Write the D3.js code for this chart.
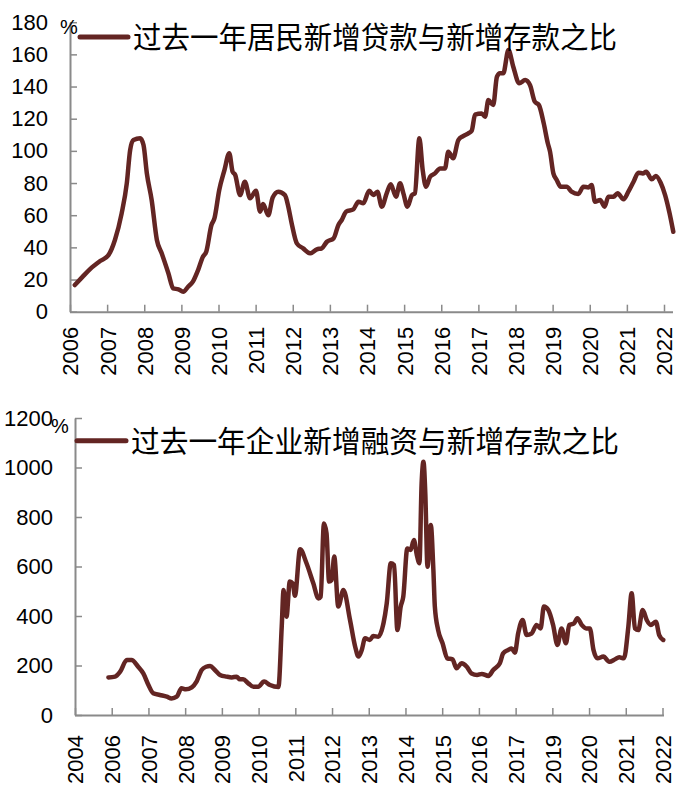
<!DOCTYPE html>
<html>
<head>
<meta charset="utf-8">
<script src="https://cdn.jsdelivr.net/npm/d3@7"></script>
<style>
  html, body { margin: 0; padding: 0; background: #fff; }
  svg { display: block; }
</style>
</head>
<body>
<svg id="chart" width="699" height="798"></svg>
<script>
// ---------------- DATA ----------------
const topTitle = "过去一年居民新增贷款与新增存款之比";
const bottomTitle = "过去一年企业新增融资与新增存款之比";

const topYTicks = [0, 20, 40, 60, 80, 100, 120, 140, 160, 180];
const topXTicks = [2006, 2007, 2008, 2009, 2010, 2011, 2012, 2013, 2014, 2015, 2016, 2017, 2018, 2019, 2020, 2021, 2022];

// [decimal year, %]
const householdRatio = [
  [2006.13,16.6],[2006.33,21.5],[2006.54,26.5],[2006.81,31.5],[2007.03,35.0],[2007.21,44.6],[2007.39,61],[2007.53,79.8],[2007.62,100.5],[2007.71,106.7],
  [2007.89,107.8],[2007.98,103.6],[2008.07,86],[2008.2,69.4],[2008.34,44.6],[2008.47,36.3],[2008.65,23.9],
  [2008.78,14.5],[2008.92,13.9],[2009.05,12.4],[2009.18,15.5],[2009.31,18.7],[2009.45,25.9],[2009.58,34.2],
  [2009.67,37.3],[2009.81,53.9],[2009.89,58],[2010.02,75.7],[2010.16,88],[2010.29,98.5],[2010.38,87],
  [2010.45,85],[2010.58,72.5],[2010.71,80.8],[2010.85,70.5],[2011.01,75.2],[2011.12,62.2],[2011.2,67],
  [2011.34,60],[2011.46,71],[2011.61,74.6],[2011.79,72.5],[2011.88,65.3],[2011.97,55],[2012.11,42.5],
  [2012.28,39.4],[2012.47,36.3],[2012.65,38.8],[2012.78,39.4],[2012.92,43.5],[2013.1,45.6],[2013.23,53.9],
  [2013.32,57],[2013.44,62.2],[2013.63,63.6],[2013.77,68.4],[2013.9,67.4],[2014.06,75.2],[2014.17,72.5],
  [2014.28,74.6],[2014.4,65.3],[2014.53,73.6],[2014.64,79.2],[2014.78,71.5],[2014.89,79.8],[2014.98,73.6],
  [2015.09,65.3],[2015.21,72.5],[2015.29,73.6],[2015.41,107.8],[2015.5,88.1],[2015.59,77.7],[2015.7,83.9],
  [2015.83,86],[2015.97,89.1],[2016.1,89.1],[2016.19,99.5],[2016.32,95.4],[2016.46,106.7],[2016.59,109.2],
  [2016.73,110.9],[2016.82,112.5],[2016.91,122.5],[2017.09,123.3],[2017.18,121.2],[2017.27,131.6],
  [2017.4,128.5],[2017.5,146.1],[2017.58,148.2],[2017.67,148.2],[2017.81,162.7],[2017.94,152.3],
  [2018.1,142],[2018.26,144],[2018.39,140.9],[2018.52,130.6],[2018.63,128.5],[2018.76,117.1],[2018.87,104.7],
  [2018.93,99.5],[2019.02,86],[2019.11,81.9],[2019.22,77.7],[2019.38,77.7],[2019.51,74.6],[2019.69,73.2],
  [2019.83,77.7],[2019.96,77.3],[2020.05,78.8],[2020.14,68.4],[2020.28,69.4],[2020.4,65.3],[2020.5,71.5],
  [2020.64,71.5],[2020.75,73.6],[2020.91,69.9],[2021.04,74.6],[2021.18,80.8],[2021.31,86.4],[2021.43,86],
  [2021.52,87],[2021.67,82.3],[2021.78,84.4],[2021.91,80.2],[2022.03,72.5],[2022.15,61.2],[2022.25,49.7]
];

const bottomYTicks = [0, 200, 400, 600, 800, 1000, 1200];
// category axis labels as printed (one per tick position)
const bottomXLabels = ["2004","2006","2007","2008","2009","2010","2011","2012","2013","2014","2015","2016","2017","2019","2020","2021","2022"];

// [axis position (label index), %]
const corporateRatio = [
  [0.91,152],[1.09,155],[1.23,175],[1.41,222],[1.54,222],[1.72,195],[1.86,168],[2.0,121],[2.13,88],
  [2.31,81],[2.5,74],[2.63,67],[2.77,74],[2.9,108],[3.02,104],[3.18,112],[3.31,135],[3.45,182],[3.57,195],
  [3.68,198],[3.81,182],[3.95,162],[4.13,155],[4.27,152],[4.4,155],[4.49,144],[4.58,144],[4.72,128],
  [4.86,114],[4.99,114],[5.15,135],[5.31,121],[5.54,113],[5.63,357],[5.68,505],[5.76,397],[5.85,539],
  [5.93,532],[5.99,482],[6.13,670],[6.3,615],[6.49,532],[6.63,471],[6.69,478],[6.78,774],[6.85,734],
  [6.92,539],[6.99,545],[7.06,640],[7.17,438],[7.31,505],[7.49,384],[7.63,276],[7.72,236],[7.81,263],
  [7.9,310],[8.03,303],[8.12,319],[8.26,316],[8.4,370],[8.49,451],[8.6,613],[8.69,606],[8.78,343],
  [8.87,438],[8.94,478],[9.05,673],[9.14,667],[9.23,707],[9.31,646],[9.38,613],[9.44,936],[9.49,1023],
  [9.54,896],[9.6,599],[9.69,768],[9.76,586],[9.8,438],[9.89,343],[10.01,290],[10.14,229],[10.28,225],
  [10.39,189],[10.53,209],[10.67,195],[10.8,168],[10.95,162],[11.08,166],[11.26,158],[11.39,182],
  [11.57,209],[11.66,249],[11.8,263],[11.89,269],[11.98,252],[12.07,330],[12.19,384],[12.3,323],
  [12.44,330],[12.57,364],[12.68,350],[12.77,438],[12.89,424],[13.02,364],[13.14,283],[13.25,350],
  [13.37,290],[13.46,364],[13.59,370],[13.68,391],[13.8,364],[13.92,350],[14.02,350],[14.12,263],
  [14.23,229],[14.39,236],[14.55,215],[14.71,225],[14.82,233],[14.95,229],[15.07,357],[15.16,492],
  [15.25,350],[15.34,343],[15.46,424],[15.57,384],[15.68,364],[15.82,377],[15.91,323],[16.02,303]
];

// ---------------- STYLE ----------------
const lineColor = "#632523";
const axisColor = "#8a8a8a";
const numFont = "'Liberation Sans', Arial, sans-serif";
const cjkFont = "'Noto Sans CJK SC', sans-serif";

const svg = d3.select("#chart");

function drawPanel(opts) {
  const g = svg.append("g");
  const x = opts.x, y = opts.y;

  // y axis
  const yAxis = d3.axisLeft(y).tickValues(opts.yTicks).tickFormat(d3.format("d"))
    .tickSizeInner(-7).tickSizeOuter(0).tickPadding(22);
  const ga = g.append("g").attr("transform", `translate(${opts.x0},0)`).call(yAxis);
  ga.select(".domain").attr("stroke", axisColor).attr("stroke-width", 2);
  ga.selectAll(".tick line").attr("stroke", axisColor).attr("stroke-width", 1.5);
  ga.selectAll(".tick text").attr("font-family", numFont).attr("font-size", 22).attr("fill", "#000");

  // x axis
  const xAxis = d3.axisBottom(x).tickValues(opts.xTicks).tickSizeInner(-7).tickSizeOuter(0)
    .tickFormat(opts.xFormat);
  const gx = g.append("g").attr("transform", `translate(0,${opts.y0})`).call(xAxis);
  gx.select(".domain").remove();
  gx.append("line").attr("x1", opts.x0).attr("x2", opts.xEnd).attr("y1", 0.5).attr("y2", 0.5)
    .attr("stroke", axisColor).attr("stroke-width", 2);
  gx.selectAll(".tick line").attr("stroke", axisColor).attr("stroke-width", 1.5);
  gx.selectAll(".tick text")
    .attr("font-family", numFont).attr("font-size", 22).attr("fill", "#000")
    .attr("text-anchor", "end").attr("transform", "rotate(-90)")
    .attr("x", -opts.labelGap).attr("y", 0).attr("dy", "0.36em");

  // % unit
  g.append("text").attr("x", opts.pctX).attr("y", opts.pctY).text("%")
    .attr("font-family", numFont).attr("font-size", 20).attr("fill", "#000");

  // data line
  const line = d3.line().x(d => x(d[0])).y(d => y(d[1])).curve(d3.curveMonotoneX);
  g.append("path").datum(opts.data).attr("d", line)
    .attr("fill", "none").attr("stroke", lineColor).attr("stroke-width", 4.5)
    .attr("stroke-linejoin", "round").attr("stroke-linecap", "round");

  // legend
  g.append("line").attr("x1", opts.legX1).attr("x2", opts.legX2).attr("y1", opts.legY).attr("y2", opts.legY)
    .attr("stroke", lineColor).attr("stroke-width", 5).attr("stroke-linecap", "round");
  g.append("text").attr("x", opts.legX2 + 5).attr("y", opts.legY + 11).text(opts.title)
    .attr("font-family", cjkFont).attr("font-size", 30).attr("fill", "#000")
    .attr("textLength", opts.textLen).attr("lengthAdjust", "spacingAndGlyphs");
}

// top panel
drawPanel({
  x: d3.scaleLinear().domain([2006, 2022]).range([70, 664]),
  y: d3.scaleLinear().domain([0, 180]).range([311.7, 22.2]),
  x0: 70, y0: 311.7, xEnd: 673,
  yTicks: topYTicks, xTicks: topXTicks, xFormat: d => String(d),
  labelGap: 15,
  pctX: 60, pctY: 34,
  data: householdRatio,
  legX1: 80, legX2: 128, legY: 37, title: topTitle, textLen: 484
});

// bottom panel
drawPanel({
  x: d3.scaleLinear().domain([0, 16]).range([75, 662.5]),
  y: d3.scaleLinear().domain([0, 1200]).range([715, 418]),
  x0: 75, y0: 715, xEnd: 664,
  yTicks: bottomYTicks, xTicks: d3.range(bottomXLabels.length), xFormat: i => bottomXLabels[i],
  labelGap: 20,
  pctX: 51, pctY: 433,
  data: corporateRatio,
  legX1: 77, legX2: 126, legY: 440.7, title: bottomTitle, textLen: 488
});
</script>
</body>
</html>
